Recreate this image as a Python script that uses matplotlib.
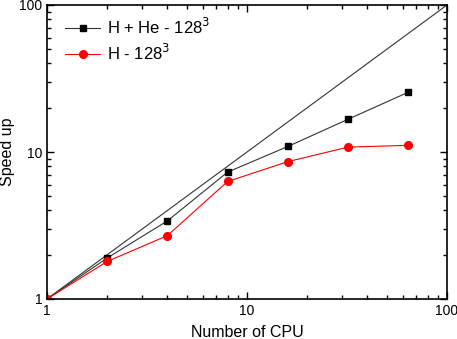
from matplotlib import pyplot as plt
from matplotlib.ticker import LogLocator, NullFormatter
import numpy as np

plt.rcParams['font.family'] = ['Liberation Sans', 'DejaVu Sans']

cpus = [1, 2, 4, 8, 16, 32, 64]
speedup_hhe = [1.0, 1.9, 3.4, 7.3, 10.9, 16.7, 25.5]
speedup_h = [1.0, 1.8, 2.7, 6.3, 8.6, 10.8, 11.1]
ideal = [1, 100]

fig = plt.figure(figsize=(4.57, 3.39), dpi=100)
ax = fig.add_axes([47/457, 40/339, 400/457, 294/339])

ax.plot(ideal, ideal, color='#333333', lw=0.8)
ax.plot(cpus, speedup_hhe, color='#333333', lw=0.8, marker='s', ms=5,
        mfc='black', mec='black', label=r'H + He - 128$^3$')
ax.plot(cpus, speedup_h, color='red', lw=0.8, marker='o', ms=5.5,
        mfc='red', mec='red', label=r'H - 128$^3$')

ax.set_xscale('log')
ax.set_yscale('log')
ax.set_xlim(1, 100)
ax.set_ylim(1, 100)
ax.set_xticks([1, 10, 100])
ax.set_xticklabels(['1', '10', '100'])
ax.set_yticks([1, 10, 100])
ax.set_yticklabels(['1', '10', '100'])
for a in (ax.xaxis, ax.yaxis):
    a.set_minor_locator(LogLocator(base=10, subs=np.arange(2, 10)))
    a.set_minor_formatter(NullFormatter())
ax.tick_params(which='both', direction='in', top=True, right=True, width=1, labelsize=10)
ax.tick_params(which='major', length=5)
ax.tick_params(which='minor', length=3)
for s in ax.spines.values():
    s.set_linewidth(1.2)

ax.set_xlabel('Number of CPU', fontsize=11.5, labelpad=5)
ax.set_ylabel('Speed up', fontsize=11.5, labelpad=3)

ax.legend(loc='upper left', bbox_to_anchor=(0.045, 0.96), frameon=False,
          fontsize=12, handlelength=2.1, handletextpad=0.4,
          borderaxespad=0, borderpad=0, labelspacing=0.35)

plt.savefig('out.png', dpi=100)
